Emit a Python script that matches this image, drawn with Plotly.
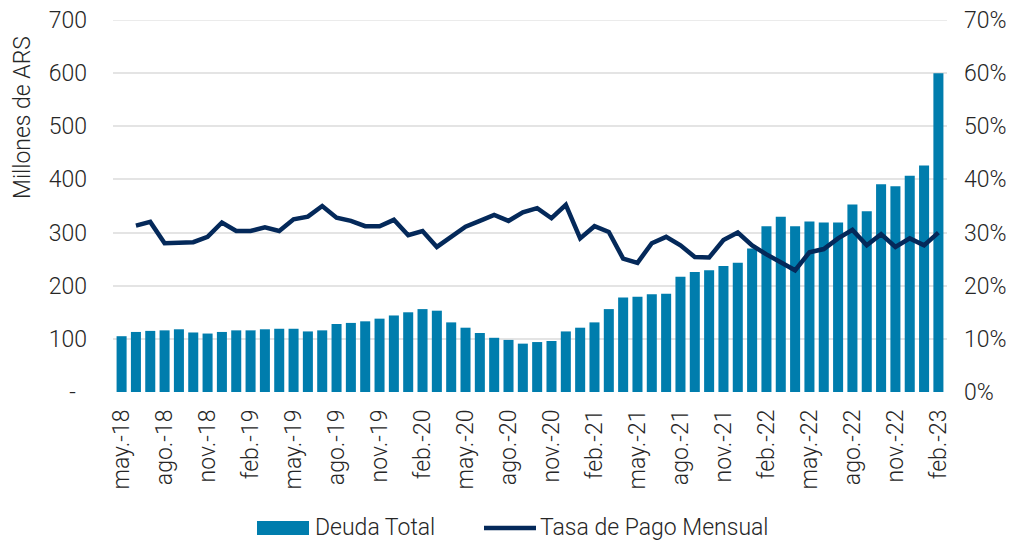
import plotly.graph_objects as go

months_es = ["ene.", "feb.", "mar.", "abr.", "may.", "jun.", "jul.", "ago.", "sep.", "oct.", "nov.", "dic."]
categories = []
for y in range(2018, 2024):
    for m in range(12):
        if (y == 2018 and m < 4) or (y == 2023 and m > 1):
            continue
        categories.append(f"{months_es[m]}-{str(y)[2:]}")

deuda_total = [105, 113, 115, 116, 118, 112, 110, 113, 116, 116, 118, 119, 119, 114, 116,
               128, 130, 133, 138, 144, 150, 156, 153, 131, 121, 111, 102, 98, 91, 94, 96,
               114, 121, 131, 156, 178, 179, 184, 185, 217, 226, 229, 237, 243, 270, 312,
               330, 312, 321, 319, 319, 353, 340, 391, 387, 407, 426, 600]

tasa_pago = [None, 31.3, 32.0, 28.0, 28.1, 28.2, 29.2, 31.9, 30.3, 30.3, 31.0, 30.3, 32.5, 33.0,
             35.0, 32.8, 32.2, 31.2, 31.2, 32.4, 29.5, 30.3, 27.3, 29.3, 31.1, 32.2, 33.3, 32.2,
             33.8, 34.6, 32.7, 35.2, 28.9, 31.2, 30.1, 25.1, 24.3, 28.0, 29.2, 27.6, 25.4, 25.3,
             28.6, 30.0, 27.6, 25.9, 24.4, 22.9, 26.3, 26.9, 28.9, 30.5, 27.6, 29.7, 27.3, 28.9,
             27.6, 30.0]

left_ticks = [0, 100, 200, 300, 400, 500, 600, 700]
left_ticktext = ["-\u00a0\u00a0", "100", "200", "300", "400", "500", "600", "700"]
right_ticks = [0, 10, 20, 30, 40, 50, 60, 70]
right_ticktext = [f"{v}%" for v in right_ticks]
legend_names = ["Deuda Total", "Tasa de Pago Mensual"]

BAR_COLOR = "#007DAD"
LINE_COLOR = "#04295A"
GRID = "#E4E4E4"
FONT = "Roboto"
TXT = "#262626"

# the page body has an 8px margin, so the figure is 8px smaller than the window
OFF = 8
W, H = 1019 - OFF, 540 - OFF
ML, MR, MT, MB = 113 - OFF, 72, 20 - OFF, 148
PW, PH = W - ML - MR, H - MT - MB


def px_x(px):
    return (px - OFF - ML) / PW


def px_y(py):
    return (H - MB - (py - OFF)) / PH


fig = go.Figure()
fig.add_trace(go.Bar(x=categories, y=deuda_total, name=legend_names[0],
                     marker=dict(color=BAR_COLOR, line=dict(width=0)), yaxis="y"))
fig.add_trace(go.Scatter(x=categories, y=tasa_pago, name=legend_names[1], mode="lines",
                         line=dict(color=LINE_COLOR, width=4.5), yaxis="y2", connectgaps=False))

tick_font = dict(family=FONT, size=23, color=TXT, weight=300)

fig.update_layout(
    width=W, height=H,
    margin=dict(l=ML, r=MR, t=MT, b=MB, autoexpand=False),
    paper_bgcolor="white", plot_bgcolor="white",
    font=tick_font,
    bargap=0.3,
    showlegend=False,
    xaxis=dict(type="category", tickmode="array", tickvals=categories[::3],
               ticktext=categories[::3], tickangle=-90, showgrid=False,
               tickfont=tick_font, ticks="",
               showline=False, automargin=False, ticklabelstandoff=12,
               ticklabeloverflow="allow",
               range=[-0.6, len(categories) - 0.4]),
    yaxis=dict(range=[0, 700], tickvals=left_ticks, ticktext=left_ticktext,
               showgrid=True, gridcolor=GRID, gridwidth=1.5, zeroline=False,
               tickfont=tick_font, ticks="", ticklabelstandoff=25, automargin=False,
               ticklabeloverflow="allow"),
    yaxis2=dict(range=[0, 70], tickvals=right_ticks, ticktext=right_ticktext,
                overlaying="y", side="right", showgrid=False, zeroline=False,
                tickfont=tick_font, ticks="", ticklabelstandoff=16, automargin=False,
                ticklabeloverflow="allow"),
)

annotations = [
    dict(text="Millones de ARS", textangle=-90, xref="paper", yref="paper",
         x=px_x(22), y=px_y(118), xanchor="center", yanchor="middle",
         showarrow=False, font=tick_font),
    dict(text=legend_names[0], xref="paper", yref="paper", x=px_x(313), y=px_y(527),
         xanchor="left", yanchor="middle", showarrow=False, font=tick_font),
    dict(text=legend_names[1], xref="paper", yref="paper", x=px_x(538), y=px_y(527),
         xanchor="left", yanchor="middle", showarrow=False, font=tick_font),
]
shapes = [
    # top gridline (plotly omits the gridline that sits on the plot edge)
    dict(type="line", xref="paper", yref="y", x0=0, x1=1, y0=left_ticks[-1], y1=left_ticks[-1],
         line=dict(color=GRID, width=1.5), layer="below"),
    dict(type="rect", xref="paper", yref="paper", x0=px_x(257), x1=px_x(309),
         y0=px_y(535), y1=px_y(521), fillcolor=BAR_COLOR, line=dict(width=0)),
    dict(type="line", xref="paper", yref="paper", x0=px_x(484), x1=px_x(536),
         y0=px_y(528), y1=px_y(528), line=dict(color=LINE_COLOR, width=4.5)),
]
fig.update_layout(annotations=annotations, shapes=shapes)

fig.write_html("out.html")
